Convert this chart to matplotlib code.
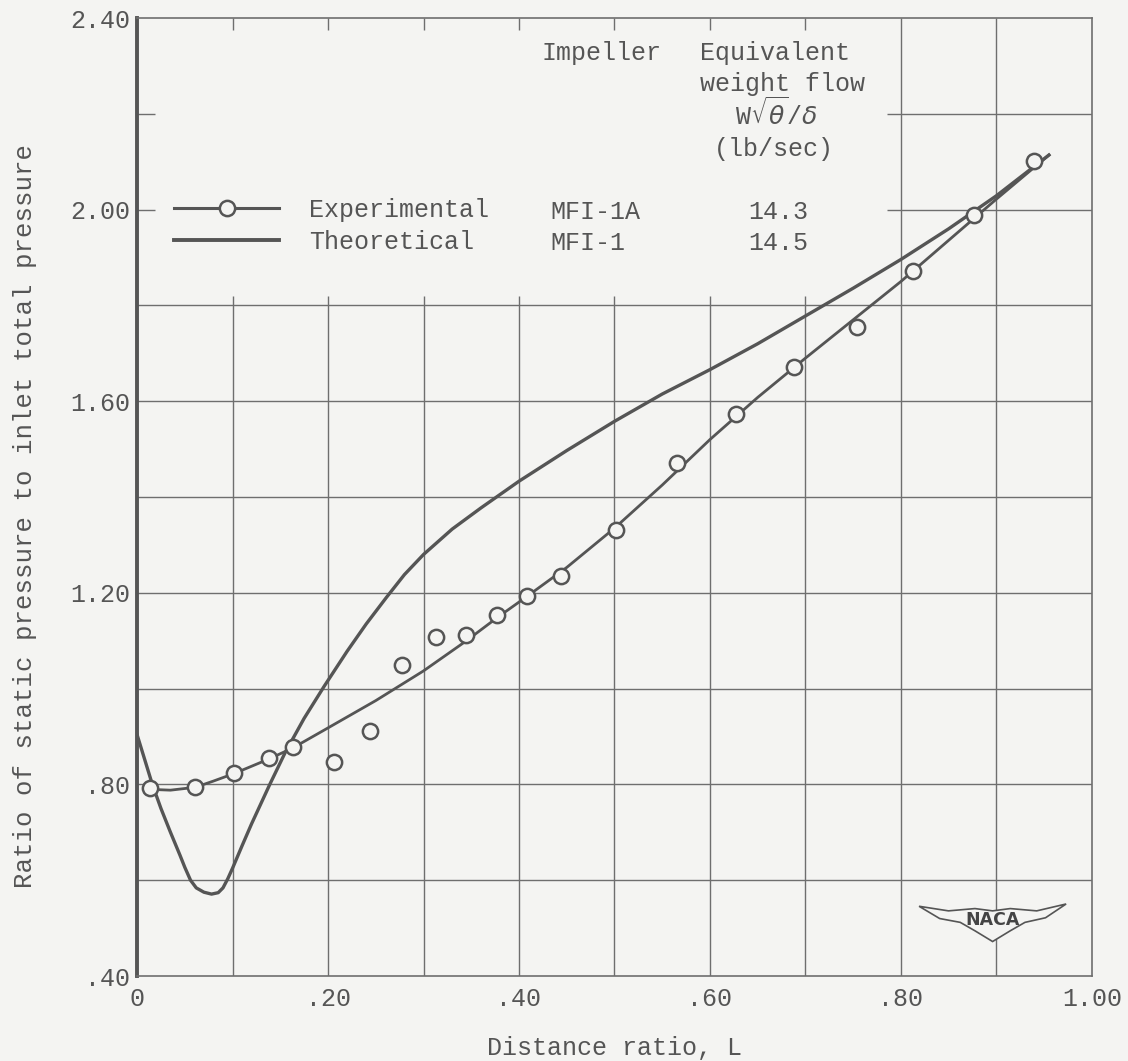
import matplotlib
matplotlib.use('Agg')
import matplotlib.pyplot as plt
from matplotlib.lines import Line2D
from matplotlib.patches import Polygon

# experimental points, impeller MFI-1A, 14.3 lb/sec
exp_L = [0.014, 0.061, 0.102, 0.138, 0.163, 0.206, 0.244, 0.277, 0.313, 0.345, 0.377,
         0.408, 0.444, 0.502, 0.566, 0.627, 0.688, 0.754, 0.813, 0.876, 0.939]
exp_P = [0.792, 0.794, 0.824, 0.856, 0.879, 0.847, 0.911, 1.049, 1.107, 1.111, 1.153,
         1.194, 1.236, 1.331, 1.472, 1.574, 1.671, 1.755, 1.872, 1.988, 2.102]

# faired curve drawn through the experimental points
fair_L = [0.010, 0.035, 0.061, 0.080, 0.102, 0.138, 0.163, 0.200, 0.250, 0.300, 0.345, 0.377,
          0.408, 0.450, 0.500, 0.550, 0.600, 0.650, 0.700, 0.750, 0.800, 0.850, 0.900, 0.955]
fair_P = [0.790, 0.788, 0.794, 0.807, 0.823, 0.853, 0.876, 0.918, 0.975, 1.037, 1.100, 1.148,
          1.192, 1.253, 1.335, 1.425, 1.520, 1.608, 1.690, 1.770, 1.850, 1.936, 2.022, 2.114]

# theoretical curve, impeller MFI-1, 14.5 lb/sec
theo_L = [0.000, 0.008, 0.016, 0.025, 0.035, 0.045, 0.050, 0.056, 0.062, 0.070, 0.078, 0.085,
          0.090, 0.095, 0.100, 0.110, 0.120, 0.139, 0.155, 0.175, 0.196, 0.220, 0.240, 0.261,
          0.280, 0.300, 0.330, 0.360, 0.400, 0.450, 0.500, 0.550, 0.600, 0.650, 0.700, 0.750,
          0.800, 0.850, 0.900, 0.955]
theo_P = [0.904, 0.852, 0.800, 0.750, 0.700, 0.652, 0.627, 0.600, 0.584, 0.575, 0.571, 0.574,
          0.584, 0.603, 0.625, 0.672, 0.718, 0.800, 0.866, 0.938, 1.005, 1.078, 1.135, 1.190,
          1.238, 1.280, 1.333, 1.377, 1.433, 1.497, 1.558, 1.615, 1.666, 1.720, 1.778, 1.836,
          1.896, 1.960, 2.029, 2.114]

x_ticks = [0, 0.2, 0.4, 0.6, 0.8, 1.0]
x_labels = ['0', '.20', '.40', '.60', '.80', '1.00']
y_ticks = [0.4, 0.8, 1.2, 1.6, 2.0, 2.4]
y_labels = ['.40', '.80', '1.20', '1.60', '2.00', '2.40']

legend_rows = ['Experimental', 'Theoretical']
impellers = ['MFI-1A', 'MFI-1']
flows = ['14.3', '14.5']

INK = '#555555'
GRID = '#6e6e6e'
PAPER = '#f4f4f2'
MONO = ['Liberation Mono', 'DejaVu Sans']

plt.rcParams['font.family'] = MONO
plt.rcParams['font.size'] = 18


def draw_logo(ax, cx, cy, w=0.154, h=0.040):
    # rough NACA wing badge, in axes fractions
    shape = [(-0.5, 0.42), (-0.3, 0.30), (-0.12, 0.36), (0.0, 0.30), (0.12, 0.36),
             (0.3, 0.30), (0.5, 0.48), (0.36, 0.12), (0.22, 0.0), (0.12, -0.22),
             (0.0, -0.5), (-0.12, -0.22), (-0.22, 0.0), (-0.36, 0.10)]
    pts = [(cx + dx * w, cy + dy * h) for dx, dy in shape]
    ax.add_patch(Polygon(pts, closed=True, transform=ax.transAxes, facecolor=PAPER,
                         edgecolor=INK, lw=1.2, zorder=4))
    ax.text(cx, cy + 0.002, 'NACA', transform=ax.transAxes, ha='center', va='center',
            family='DejaVu Sans', fontweight='bold', fontsize=12.5, color='#444444', zorder=5)


fig = plt.figure(figsize=(11.28, 10.61), dpi=100, facecolor=PAPER)
ax = fig.add_axes([0.1215, 0.0801, 0.8465, 0.9029])
ax.set_facecolor(PAPER)
ax.set_xlim(0, 1)
ax.set_ylim(0.4, 2.4)

# grid, left open in the upper left for the key
grid_kw = dict(color=GRID, lw=1.0, zorder=1)
ax.hlines([0.6, 0.8, 1.0, 1.2, 1.4, 1.6, 1.8], 0, 1, **grid_kw)
ax.hlines([2.0, 2.2], 0.785, 1, **grid_kw)
ax.vlines([0.8, 0.9], 0.4, 2.4, **grid_kw)
ax.vlines([0.1, 0.2, 0.3, 0.4, 0.5, 0.6, 0.7], 0.4, 1.82, **grid_kw)
ax.vlines([0.1, 0.2, 0.3, 0.4, 0.5, 0.6, 0.7], 2.375, 2.4, **grid_kw)
ax.hlines([2.0, 2.2], 0, 0.019, **grid_kw)

ax.plot(theo_L, theo_P, color=INK, lw=2.4, solid_joinstyle='round', zorder=3)
ax.plot(fair_L, fair_P, color=INK, lw=2.0, solid_joinstyle='round', zorder=3)
ax.plot(exp_L, exp_P, 'o', ms=11, mfc=PAPER, mec=INK, mew=1.8, zorder=4)

ax.set_xticks(x_ticks)
ax.set_xticklabels(x_labels)
ax.set_yticks(y_ticks)
ax.set_yticklabels(y_labels)
ax.tick_params(length=0, colors=INK, labelsize=18, pad=5)
ax.tick_params(axis='x', pad=8)

for side in ['top', 'right', 'bottom']:
    ax.spines[side].set_color(GRID)
    ax.spines[side].set_linewidth(1.2)
ax.spines['left'].set_color(INK)
ax.spines['left'].set_linewidth(2.8)

ax.set_xlabel('Distance ratio, L', color=INK, fontsize=18, labelpad=18)
ax.set_ylabel('Ratio of static pressure to inlet total pressure', color=INK, fontsize=18.5,
              labelpad=30)
ax.yaxis.set_label_coords(-0.105, 0.48)

# key
handles = [Line2D([], [], color=INK, lw=2.2, marker='o', ms=11, mfc=PAPER, mec=INK, mew=1.8),
           Line2D([], [], color=INK, lw=2.8)]
ax.legend(handles, legend_rows, loc='upper left', bbox_to_anchor=(0.039, 0.812),
          frameon=False, handlelength=4.2, handletextpad=1.2, labelspacing=0.3,
          borderpad=0, borderaxespad=0, numpoints=1, labelcolor=INK,
          prop={'family': MONO, 'size': 18})

txt = dict(color=INK, fontsize=18, va='center')
ax.text(0.486, 2.327, 'Impeller', ha='center', **txt)
ax.text(0.668, 2.327, 'Equivalent', ha='center', **txt)
ax.text(0.676, 2.262, 'weight flow', ha='center', **txt)
ax.text(0.670, 2.200, r'W$\sqrt{\theta}$/$\delta$', ha='center', **txt)
ax.text(0.667, 2.127, '(lb/sec)', ha='center', **txt)
for row_p, imp, flow in zip([1.996, 1.930], impellers, flows):
    ax.text(0.433, row_p, imp, ha='left', **txt)
    ax.text(0.671, row_p, flow, ha='center', **txt)

draw_logo(ax, 0.896, 0.056)

fig.savefig('out.png', dpi=100, facecolor=PAPER)
